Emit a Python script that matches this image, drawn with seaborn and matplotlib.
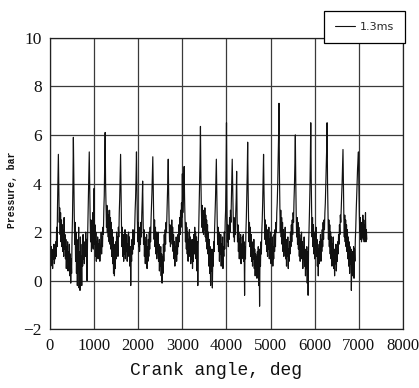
import numpy as np
import pandas as pd
import matplotlib
matplotlib.use("Agg")
import matplotlib.pyplot as plt
import seaborn as sns

# Crank angle step between samples (deg)
angle_step = 10
series_label = "1.3ms"
x_ticks = [0, 1000, 2000, 3000, 4000, 5000, 6000, 7000, 8000]
y_ticks = [-2, 0, 2, 4, 6, 8, 10]

# Pressure samples (bar), every 10 deg, rows of 100 deg
pressure_0000_1800 = [
    2.9, 1.2, 0.6, 1.4, 0.8, 1.1, 0.5, 1.3, 0.9, 1.5,
    0.7, 1.2, 0.9, 1.6, 1.0, 2.2, 1.4, 3.0, 4.1, 5.2,
    3.6, 2.4, 3.0, 1.9, 2.8, 1.6, 2.5, 1.4, 2.3, 1.2,
    2.1, 1.0, 2.6, 1.3, 1.9, 0.9, 1.7, 0.5, 1.4, 0.8,
    1.6, 0.4, 1.2, 0.6, 1.5, 0.2, 1.1, -0.1, 0.9, 0.3,
    1.8, 2.6, 4.0, 5.9, 4.1, 2.7, 1.5, 2.4, 0.8, 2.0,
    0.3, 1.7, -0.2, 1.4, 0.5, 2.2, -0.3, 1.2, -0.4, 1.8,
    0.2, 1.0, -0.2, 1.5, 0.6, 1.9, 0.9, 1.4, 0.7, 1.6,
    1.0, 2.0, 1.1, 1.7, 0.0, 1.5, 2.4, 3.2, 4.4, 5.3,
    3.9, 2.6, 1.6, 2.5, 1.2, 2.2, 1.4, 2.8, 1.3, 2.0,
    3.8, 1.5, 2.3, 1.0, 2.0, 0.8, 1.6, 1.1, 1.8, 0.9,
    1.5, 1.0, 1.7, 0.8, 1.4, 1.2, 2.0, 1.1, 1.8, 1.4,
    2.2, 1.9, 2.9, 3.5, 4.8, 6.1, 4.0, 3.0, 2.2, 3.1,
    2.0, 2.9, 1.8, 2.7, 1.6, 2.9, 1.5, 2.6, 1.3, 2.4,
    1.0, 2.1, 0.7, 1.8, 0.3, 1.5, 0.2, 1.2, 0.5, 1.6,
    0.9, 2.0, 1.2, 1.8, 1.0, 2.2, 1.8, 2.8, 3.4, 4.3,
    5.2, 3.6, 2.3, 1.4, 2.2, 1.0, 1.9, 0.8, 1.6, 1.1,
    2.1, 0.9, 1.7, 1.2, 1.9, 0.8, 1.5, 1.0, 2.0, 1.3,
]
pressure_1800_3600 = [
    1.8, 0.6, 1.4, -0.2, 1.2, 0.8, 1.7, 1.1, 2.1, 1.3,
    1.9, 1.5, 2.3, 2.9, 3.4, 4.2, 5.3, 3.8, 2.5, 1.6,
    2.4, 1.4, 2.2, 1.2, 2.0, 1.5, 2.4, 1.8, 2.7, 3.3,
    4.1, 2.6, 1.5, 2.1, 1.0, 1.8, 0.7, 1.6, 0.9, 1.9,
    0.5, 1.4, 0.8, 1.7, 1.0, 2.0, 1.3, 2.2, 1.6, 2.5,
    3.0, 3.6, 4.3, 5.1, 3.7, 2.6, 1.7, 2.5, 1.4, 2.2,
    1.1, 2.0, 0.9, 1.7, 1.2, 2.0, 0.8, 1.5, 0.4, 1.3,
    0.6, 1.4, 0.2, 1.1, -0.1, 1.0, 0.3, 1.5, 0.8, 1.9,
    1.2, 2.1, 1.5, 2.4, 2.0, 2.7, 3.3, 4.1, 5.0, 3.5,
    2.4, 1.6, 2.3, 1.4, 2.1, 1.7, 2.5, 1.5, 2.2, 1.2,
    1.9, 0.9, 1.6, 0.6, 1.4, 1.0, 1.8, 0.8, 1.5, 1.1,
    1.9, 1.4, 2.3, 1.6, 2.6, 1.9, 2.9, 2.2, 3.2, 2.6,
    4.4, 2.8, 3.5, 3.9, 4.7, 3.4, 2.5, 1.6, 2.4, 1.3,
    2.2, 1.1, 2.0, 0.8, 1.7, 1.2, 2.1, 1.0, 1.8, 0.7,
    1.5, 0.9, 1.7, 0.5, 1.4, 0.8, 1.9, 1.1, 2.2, 1.4,
    2.0, 0.9, 1.8, 0.4, 1.6, -0.2, 1.5, 2.1, 3.0, 3.8,
    4.9, 6.35, 4.2, 3.0, 2.2, 3.1, 2.0, 2.9, 1.9, 2.8,
    2.1, 3.0, 1.8, 2.7, 1.6, 2.5, 1.3, 2.3, 1.1, 2.0,
]
pressure_3600_5400 = [
    0.6, 1.7, 0.3, 1.4, -0.2, 1.1, 0.4, 1.3, -0.3, 1.0,
    0.6, 1.6, 1.2, 2.1, 2.7, 3.3, 4.1, 5.0, 3.6, 2.4,
    1.5, 2.2, 1.2, 2.0, 0.8, 1.7, 1.1, 1.9, 0.6, 1.5,
    0.9, 1.8, 0.5, 1.4, 1.0, 2.0, 1.3, 2.4, 2.9, 4.3,
    6.5, 3.2, 1.6, 2.3, 1.4, 2.2, 1.7, 2.6, 2.0, 2.9,
    2.4, 3.3, 4.0, 5.0, 3.9, 2.6, 1.8, 2.6, 1.6, 2.4,
    1.9, 2.8, 3.4, 4.5, 2.7, 1.6, 2.3, 1.2, 2.0, 0.9,
    1.7, 1.1, 1.9, 0.7, 1.5, 0.9, 1.8, 1.1, 1.9, 0.8,
    1.6, -0.6, 1.4, 0.9, 2.0, 2.6, 3.4, 4.4, 5.7, 3.8,
    2.5, 1.6, 2.4, 1.4, 2.2, 1.0, 1.9, 0.8, 1.6, 0.6,
    1.4, 0.9, 1.7, 0.5, 1.3, 0.2, 1.1, 0.4, 1.0, 0.1,
    1.2, 0.3, 1.4, -0.2, 1.3, -1.05, 1.2, 0.6, 1.6, 1.1,
    2.0, 2.5, 3.2, 4.1, 5.2, 3.7, 2.6, 1.7, 2.5, 1.5,
    2.3, 1.2, 2.1, 1.0, 1.9, 1.3, 2.2, 0.9, 1.7, 1.1,
    2.0, 0.7, 1.5, 1.0, 1.8, 0.6, 1.4, 0.9, 1.9, 1.2,
    2.1, 1.4, 2.4, 2.0, 2.8, 3.2, 3.9, 4.8, 5.9, 7.3,
    4.4, 3.0, 2.0, 2.9, 1.8, 2.6, 1.5, 2.4, 1.2, 2.1,
    1.0, 1.9, 1.4, 2.2, 0.9, 1.7, 0.6, 1.5, 1.0, 1.8,
]
pressure_5400_7200 = [
    0.5, 1.3, 0.8, 1.6, 1.1, 2.0, 1.4, 2.3, 1.6, 2.5,
    1.9, 2.8, 2.4, 3.3, 3.9, 4.8, 6.0, 4.1, 2.7, 1.8,
    2.6, 1.5, 2.4, 1.3, 2.2, 1.0, 1.9, 0.8, 1.7, 1.2,
    2.0, 0.9, 1.6, 0.5, 1.4, 0.9, 1.8, 0.6, 1.3, 0.2,
    1.1, 0.5, 1.4, -0.1, 1.2, -0.6, 1.3, 2.0, 2.8, 3.7,
    4.9, 6.5, 4.2, 2.8, 1.8, 2.6, 1.4, 2.3, 1.1, 2.0,
    0.9, 1.8, 1.3, 2.2, 1.0, 1.7, 0.6, 1.5, 0.2, 1.3,
    0.7, 1.6, 1.0, 1.9, 0.8, 1.7, 1.2, 2.1, 1.4, 2.4,
    1.7, 2.5, 2.1, 2.8, 3.2, 3.9, 4.6, 5.4, 6.5, 4.0,
    2.7, 1.7, 2.5, 1.4, 2.3, 1.1, 2.0, 0.9, 1.8, 0.6,
    1.5, 1.0, 1.8, 0.5, 1.3, 0.2, 1.2, 0.7, 1.5, 0.4,
    1.2, 0.8, 1.6, 1.1, 1.9, 1.5, 2.3, 1.9, 2.7, 2.4,
    3.0, 3.5, 4.0, 4.7, 5.4, 3.8, 2.6, 1.8, 2.7, 1.6,
    2.5, 1.4, 2.3, 1.2, 2.1, 0.9, 1.8, 0.6, 1.6, 0.3,
    1.4, 0.7, 1.3, -0.4, 1.1, 0.2, 1.2, 0.5, 1.4, 0.1,
    1.3, 0.8, 1.7, 2.2, 2.9, 3.4, 4.0, 4.6, 5.0, 5.3,
    3.9, 2.8, 2.0, 2.6, 1.7, 2.4, 1.6, 2.2, 1.8, 2.7,
    1.7, 2.5, 1.6, 2.3, 1.8, 2.8, 1.6, 2.1, 1.7,
]

pressure = (pressure_0000_1800 + pressure_1800_3600
            + pressure_3600_5400 + pressure_5400_7200)
df = pd.DataFrame({
    "angle": np.arange(len(pressure)) * angle_step,
    "pressure": pressure,
})

sns.set_style("white")
tick_font = ["Liberation Serif", "DejaVu Serif"]

fig = plt.figure(figsize=(4.19, 3.88), dpi=100)
ax = fig.add_axes([0.1193, 0.1513, 0.8425, 0.7515])

sns.lineplot(data=df, x="angle", y="pressure", ax=ax, color="#111111",
             linewidth=0.85, label=series_label, legend=False)

ax.set_xlim(0, 8000)
ax.set_ylim(-2, 10)
ax.set_xticks(x_ticks)
ax.set_yticks(y_ticks)
ax.set_xticklabels([str(v) for v in x_ticks], family=tick_font, fontsize=12)
ax.set_yticklabels([str(v) if v >= 0 else "\u2212" + str(-v) for v in y_ticks],
                   family=tick_font, fontsize=12.5)
ax.tick_params(axis="both", direction="out", length=3, width=0.8,
               color="black", labelcolor="#111111")
ax.tick_params(axis="x", pad=3)
ax.tick_params(axis="y", pad=3)

ax.grid(True, color="#3a3a3a", linewidth=0.9)
ax.set_axisbelow(True)
for s in ax.spines.values():
    s.set_color("#222222")
    s.set_linewidth(0.9)
    s.set_visible(True)

ax.set_xlabel("Crank angle, deg", family=["Liberation Mono", "DejaVu Sans Mono"],
              fontsize=13, color="#111111")
ax.xaxis.set_label_coords(0.47, -0.112)
ax.set_ylabel("Pressure, bar", family=["Liberation Mono", "DejaVu Sans Mono"],
              fontsize=7, fontweight="bold", color="#111111")
ax.yaxis.set_label_coords(-0.093, 0.478)

handles, labels = ax.get_legend_handles_labels()
leg = fig.legend(handles, labels, loc="upper right",
                 bbox_to_anchor=(0.967, 0.972), frameon=True, fancybox=False,
                 edgecolor="black", framealpha=1, handlelength=1.8,
                 borderpad=1.0, handletextpad=0.4, borderaxespad=0,
                 prop={"family": ["DejaVu Sans"], "size": 8})
leg.get_frame().set_linewidth(0.9)
for h in leg.get_lines():
    h.set_linewidth(0.8)

fig.savefig("out.png", dpi=100)
